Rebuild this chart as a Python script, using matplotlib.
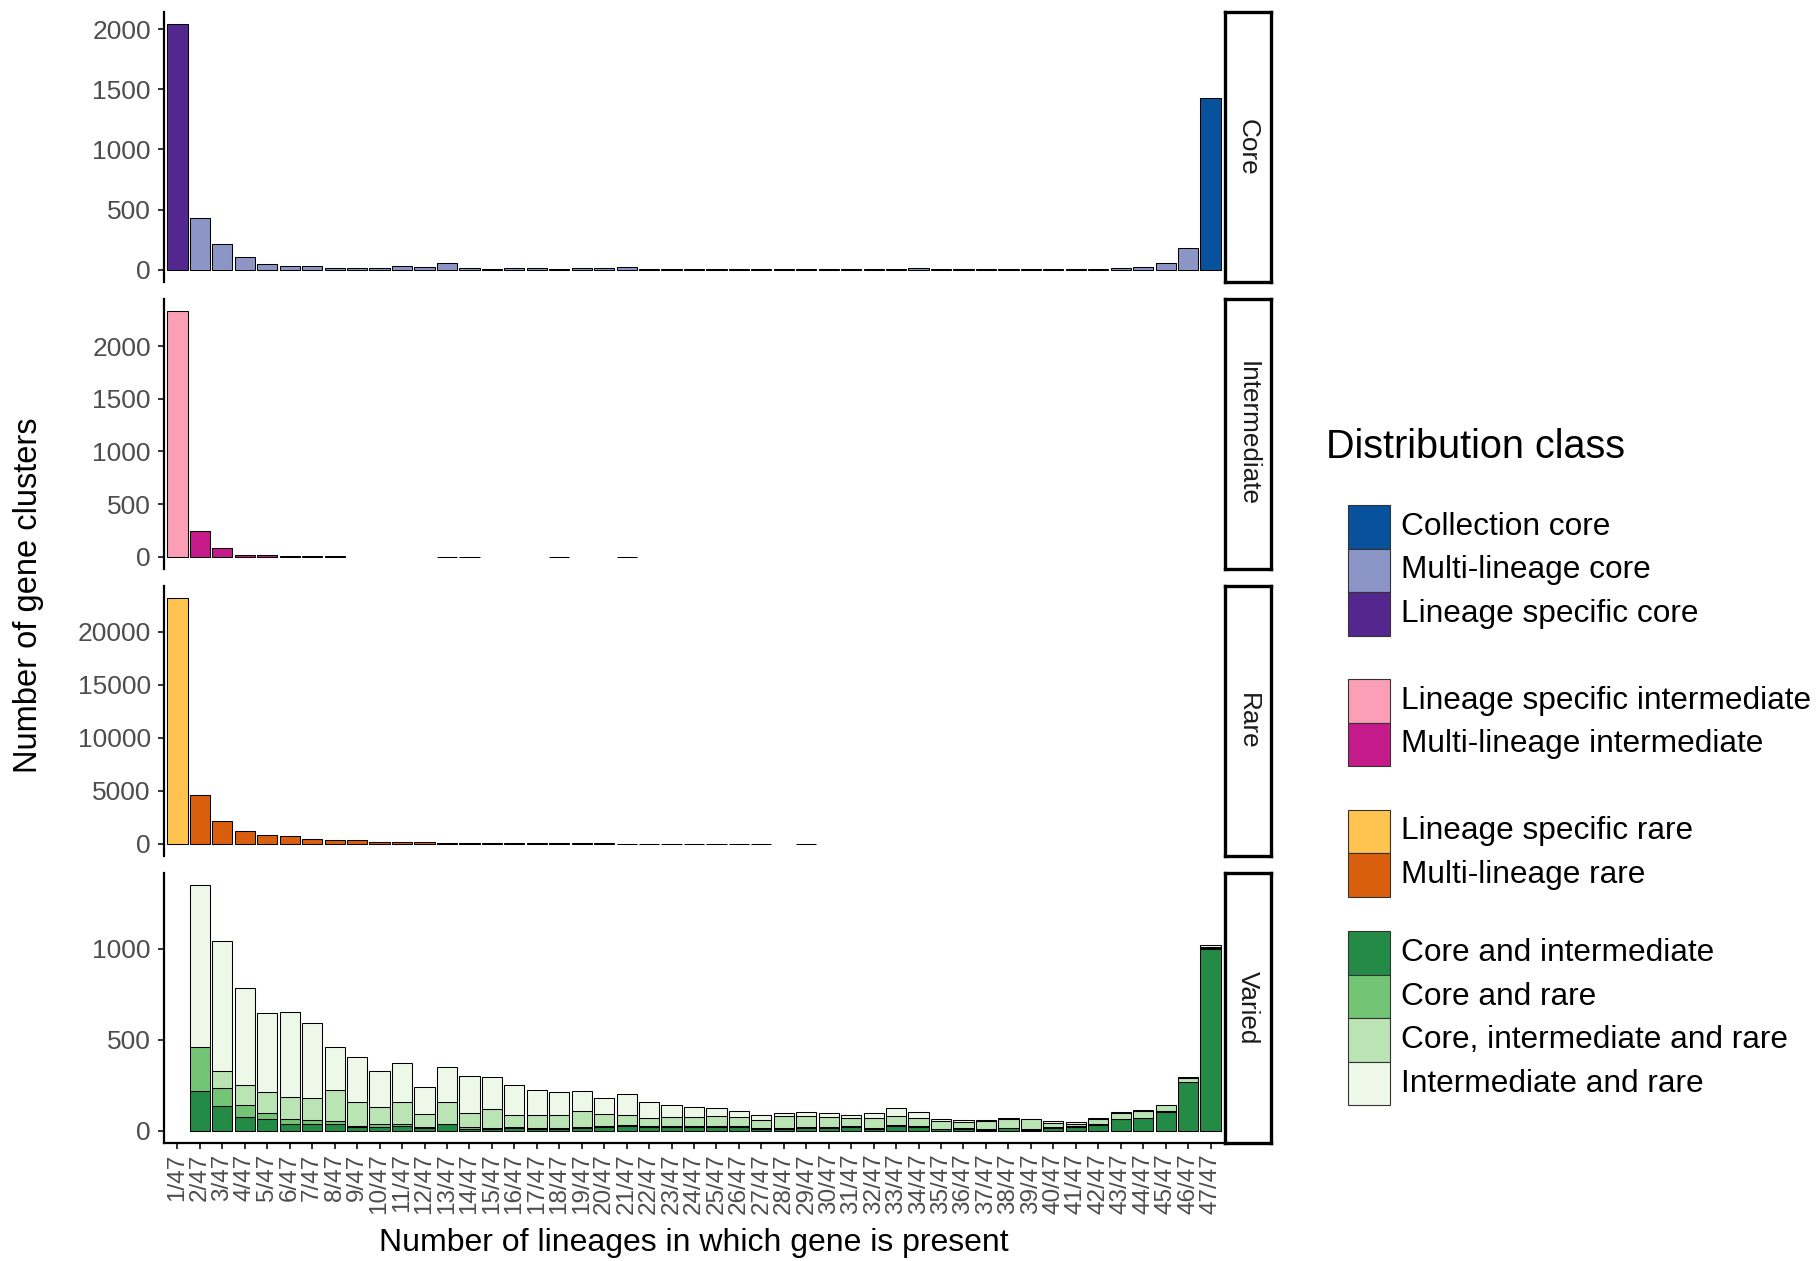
import numpy as np
import matplotlib
matplotlib.use("Agg")
import matplotlib.pyplot as plt
from matplotlib.patches import Rectangle

plt.rcParams["font.family"] = ["Liberation Sans", "DejaVu Sans"]

# categories on the x axis
lineage_counts = [f"{i}/47" for i in range(1, 48)]

# ---- Core panel ----
lineage_specific_core = [2040] + [0] * 46
multi_lineage_core = [0, 430, 210, 105, 50, 31, 29, 18, 18, 18, 31, 25, 56, 18, 10, 18, 18, 7, 17, 17,
                      19, 9, 4, 6, 6, 6, 6, 6, 8, 4, 8, 8, 8, 12, 4, 6, 4, 6, 8, 4,
                      8, 8, 14, 25, 57, 180, 0]
collection_core = [0] * 46 + [1425]

# ---- Intermediate panel ----
lineage_specific_intermediate = [2330] + [0] * 46
multi_lineage_intermediate = [0, 248, 79, 19, 12, 6, 5, 4, 0, 0, 0, 0, 2, 2, 0, 0, 0, 2, 0, 0,
                              2, 0, 0, 0, 0, 0, 0, 0, 0, 0, 0, 0, 0, 0, 0, 0, 0, 0, 0, 0,
                              0, 0, 0, 0, 0, 0, 0]

# ---- Rare panel ----
lineage_specific_rare = [23150] + [0] * 46
multi_lineage_rare = [0, 4600, 2190, 1190, 810, 720, 410, 375, 375, 190, 155, 125, 95, 80, 60, 45, 35, 30, 25, 25,
                      20, 20, 15, 15, 12, 10, 10, 0, 8, 0, 0, 0, 0, 0, 0, 0, 0, 0, 0, 0,
                      0, 0, 0, 0, 0, 0, 0]

# ---- Varied panel (stacked) ----
core_and_intermediate = [0, 220, 138, 77, 64, 35, 35, 38, 18, 22, 27, 15, 35, 10, 8, 14, 10, 10, 15, 18,
                         25, 18, 18, 18, 22, 20, 9, 10, 14, 16, 22, 12, 28, 20, 8, 12, 5, 14, 5, 16,
                         22, 34, 64, 69, 104, 266, 1000]
core_and_rare = [0, 239, 95, 63, 33, 31, 25, 17, 9, 16, 9, 7, 3, 8, 5, 8, 6, 6, 7, 6,
                 6, 6, 6, 6, 5, 7, 4, 3, 4, 4, 5, 4, 3, 4, 3, 3, 2, 2, 2, 2,
                 2, 2, 2, 2, 2, 2, 3]
core_intermediate_and_rare = [0, 0, 95, 110, 114, 122, 120, 169, 133, 93, 122, 71, 120, 80, 104, 67, 70, 73, 85, 69,
                              56, 47, 52, 49, 55, 49, 47, 69, 62, 55, 44, 55, 49, 45, 40, 34, 45, 46, 55, 26,
                              12, 30, 34, 40, 34, 23, 9]
intermediate_and_rare = [0, 891, 718, 537, 436, 466, 414, 239, 243, 197, 214, 146, 192, 202, 178, 161, 140, 126, 112, 89,
                         113, 87, 68, 60, 42, 30, 27, 16, 24, 25, 16, 26, 46, 33, 16, 11, 5, 9, 5, 12,
                         11, 5, 2, 2, 2, 2, 8]

colors = {
    "Collection core": "#08519C",
    "Multi-lineage core": "#8C96C6",
    "Lineage specific core": "#54278F",
    "Lineage specific intermediate": "#FA9FB5",
    "Multi-lineage intermediate": "#C51B8A",
    "Lineage specific rare": "#FEC44F",
    "Multi-lineage rare": "#D95F0E",
    "Core and intermediate": "#238B45",
    "Core and rare": "#74C476",
    "Core, intermediate and rare": "#BAE4B3",
    "Intermediate and rare": "#EDF8E9",
}

# panel name, stacked series (bottom first), y ticks
panels = [
    ("Core", [("Lineage specific core", lineage_specific_core),
              ("Multi-lineage core", multi_lineage_core),
              ("Collection core", collection_core)], [0, 500, 1000, 1500, 2000]),
    ("Intermediate", [("Lineage specific intermediate", lineage_specific_intermediate),
                      ("Multi-lineage intermediate", multi_lineage_intermediate)], [0, 500, 1000, 1500, 2000]),
    ("Rare", [("Lineage specific rare", lineage_specific_rare),
              ("Multi-lineage rare", multi_lineage_rare)], [0, 5000, 10000, 15000, 20000]),
    ("Varied", [("Core and intermediate", core_and_intermediate),
                ("Core and rare", core_and_rare),
                ("Core, intermediate and rare", core_intermediate_and_rare),
                ("Intermediate and rare", intermediate_and_rare)], [0, 500, 1000]),
]

W, H = 1820, 1261
fig = plt.figure(figsize=(W / 100, H / 100), dpi=100)


def rect(left, top, right, bottom):
    return [left / W, 1 - bottom / H, (right - left) / W, (bottom - top) / H]


panel_left, panel_right = 164, 1224
strip_right = 1271
panel_tops = [12, 299, 586, 873]
panel_h = 270

x = np.arange(1, 48)
tick_grey = "#4D4D4D"

for k, (name, series, yticks) in enumerate(panels):
    top = panel_tops[k]
    ax = fig.add_axes(rect(panel_left, top, panel_right, top + panel_h))
    bottom = np.zeros(47)
    for label, vals in series:
        v = np.array(vals, dtype=float)
        m = v > 0
        ax.bar(x[m], v[m], width=0.9, bottom=bottom[m], color=colors[label],
               edgecolor="black", linewidth=0.75)
        bottom += v
    ymax = bottom.max()
    ax.set_ylim(-0.05 * ymax, 1.05 * ymax)
    ax.set_xlim(0.4, 47.6)
    ax.set_yticks(yticks)
    ax.set_yticklabels([str(t) for t in yticks])
    for s in ["top", "right"]:
        ax.spines[s].set_visible(False)
    ax.spines["left"].set_linewidth(1.6)
    ax.tick_params(axis="y", length=4.5, width=1.4, color="#333333",
                   labelsize=19, labelcolor=tick_grey, pad=5)
    if k == len(panels) - 1:
        ax.spines["bottom"].set_linewidth(1.6)
        ax.set_xticks(x)
        ax.set_xticklabels(lineage_counts, rotation=90, va="top", ha="center")
        ax.tick_params(axis="x", length=4.5, width=1.4, color="#333333",
                       labelsize=17.5, labelcolor=tick_grey, pad=3)
    else:
        ax.spines["bottom"].set_visible(False)
        ax.set_xticks([])

    # facet strip on the right
    sax = fig.add_axes(rect(panel_right + 1, top, strip_right, top + panel_h))
    sax.set_xticks([])
    sax.set_yticks([])
    for s in sax.spines.values():
        s.set_linewidth(2.4)
        s.set_color("black")
    sax.text(0.5, 0.5, name, rotation=270, ha="center", va="center",
             fontsize=18.8, color="#1A1A1A", transform=sax.transAxes)

# axis titles
fig.text(29 / W, 1 - 595 / H, "Number of gene clusters", rotation=90,
         ha="center", va="center", fontsize=23.5)
fig.text((panel_left + panel_right) / 2 / W, 1 - 1243 / H,
         "Number of lineages in which gene is present",
         ha="center", va="center", fontsize=23)

# legend drawn in pixel coordinates
lax = fig.add_axes([0, 0, 1, 1])
lax.set_xlim(0, W)
lax.set_ylim(H, 0)
lax.axis("off")
lax.text(1326, 447, "Distribution class", fontsize=28.5, ha="left", va="center")
legend_rows = [
    ("Collection core", 0), ("Multi-lineage core", 1), ("Lineage specific core", 2),
    ("Lineage specific intermediate", 4), ("Multi-lineage intermediate", 5),
    ("Lineage specific rare", 7), ("Multi-lineage rare", 8),
    ("Core and intermediate", 9.8), ("Core and rare", 10.8),
    ("Core, intermediate and rare", 11.8), ("Intermediate and rare", 12.8),
]
key_top0, key_h = 505, 43.5
for label, r in legend_rows:
    ky = key_top0 + r * key_h
    lax.add_patch(Rectangle((1348, ky), 42, key_h, facecolor=colors[label],
                            edgecolor="#333333", linewidth=0.8))
    lax.text(1401, ky + key_h / 2, label, fontsize=22.8, ha="left", va="center")

fig.savefig("out.png", dpi=100)
